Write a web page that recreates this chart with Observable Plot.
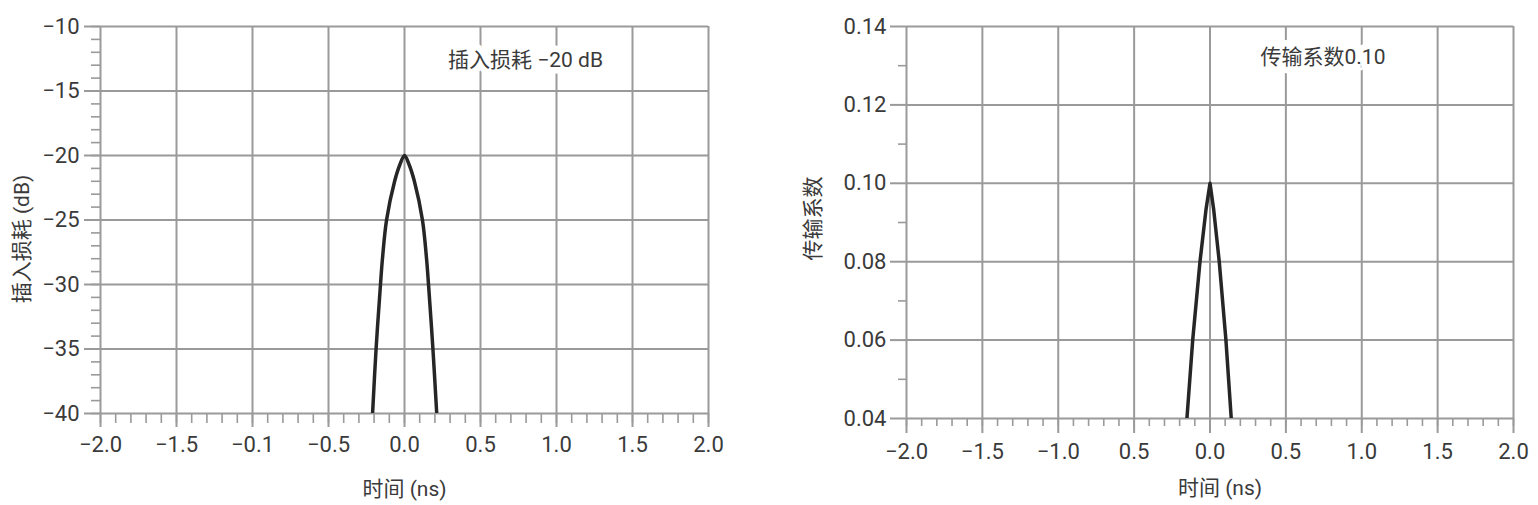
<!DOCTYPE html>
<html>
<head>
<meta charset="utf-8">
<script src="https://cdn.jsdelivr.net/npm/d3@7"></script>
<script src="https://cdn.jsdelivr.net/npm/@observablehq/plot@0.6"></script>
<style>
  html, body { margin: 0; padding: 0; background: #fff; }
  #wrap { display: flex; width: 1538px; height: 505px; }
</style>
</head>
<body>
<div id="wrap"></div>
<script>
// ---- data ----
const timeTicks = [-2, -1.5, -1, -0.5, 0, 0.5, 1, 1.5, 2];
const leftTimeLabels = ["−2.0", "−1.5", "−0.1", "−0.5", "0.0", "0.5", "1.0", "1.5", "2.0"];
const rightTimeLabels = ["−2.0", "−1.5", "−1.0", "0.5", "0.0", "0.5", "1.0", "1.5", "2.0"];

const lossTicks = [-40, -35, -30, -25, -20, -15, -10];
const lossLabels = ["−40", "−35", "−30", "−25", "−20", "−15", "−10"];
const coefTicks = [0.04, 0.06, 0.08, 0.10, 0.12, 0.14];
const coefLabels = ["0.04", "0.06", "0.08", "0.10", "0.12", "0.14"];

const lossTime  = [-0.21, -0.187, -0.158, -0.145, -0.118, -0.065, -0.03, 0, 0.03, 0.065, 0.118, 0.145, 0.158, 0.187, 0.212];
const lossValue = [-40, -35, -30, -28, -25, -22, -20.7, -20, -20.7, -22, -25, -28, -30, -35, -40];

const coefTime  = [-0.152, -0.114, -0.066, -0.026, 0, 0.024, 0.061, 0.105, 0.14];
const coefValue = [0.04, 0.06, 0.08, 0.0934, 0.1, 0.0934, 0.08, 0.06, 0.04];

const xTitle = "时间 (ns)";
const leftYTitle = "插入损耗 (dB)";
const rightYTitle = "传输系数";
const leftNote = "插入损耗 −20 dB";
const rightNote = "传输系数0.10";

// ---- style ----
const gridColor = "#9a9a9a";
const textColor = "#3a3a3a";
const lineColor = "#262626";
const font = "Roboto, 'Noto Sans CJK SC', sans-serif";

function panel(o) {
  const xLab = new Map(timeTicks.map((t, i) => [t, o.xLabels[i]]));
  const yLab = new Map(o.yTicks.map((t, i) => [t, o.yLabels[i]]));
  const data = o.times.map((t, i) => ({t, v: o.values[i]}));
  return Plot.plot({
    width: 769,
    height: 505,
    marginLeft: o.ml, marginRight: o.mr, marginTop: 26, marginBottom: o.mb,
    style: {fontFamily: font, fontSize: "21px", background: "#fff", color: textColor, overflow: "visible"},
    x: {domain: [-2, 2]},
    y: {domain: o.yDomain},
    marks: [
      Plot.gridY(o.yTicks, {stroke: gridColor, strokeOpacity: 1, strokeWidth: 2}),
      Plot.gridX(timeTicks, {stroke: gridColor, strokeOpacity: 1, strokeWidth: 2}),
      // minor ticks
      Plot.axisY(o.yMinor, {anchor: "left", tickSize: o.yMinorSize, tickFormat: () => "", stroke: gridColor, strokeWidth: 1.6, label: null}),
      Plot.axisX(d3.range(-20, 21).map(i => i / 10), {anchor: "bottom", tickSize: o.xMinorSize, tickFormat: () => "", stroke: gridColor, strokeWidth: 1.6, label: null}),
      // major ticks
      Plot.axisY(o.yTicks, {anchor: "left", tickSize: 16, tickFormat: () => "", stroke: gridColor, strokeWidth: 2, label: null}),
      Plot.axisX(timeTicks, {anchor: "bottom", tickSize: o.xMajorSize, tickFormat: () => "", stroke: gridColor, strokeWidth: 2, label: null}),
      // labels
      Plot.axisY(o.yTicks, {anchor: "left", tickSize: 0, tickPadding: o.yPad, tickFormat: d => yLab.get(d), color: textColor, fontSize: 22, label: null}),
      Plot.axisX(timeTicks, {anchor: "bottom", tickSize: 0, tickPadding: o.xPad, tickFormat: d => xLab.get(d), color: textColor, fontSize: 22, label: null}),
      // curve
      Plot.line(data, {x: "t", y: "v", stroke: lineColor, strokeWidth: 3.5, curve: o.curve, clip: true}),
      // annotation
      Plot.text([o.note], {frameAnchor: "top", textAnchor: "middle", dx: o.noteDx, dy: o.noteDy, lineAnchor: "middle", fill: textColor, stroke: "white", strokeWidth: 13, paintOrder: "stroke", fontSize: 21}),
      // axis titles
      Plot.text([xTitle], {frameAnchor: "bottom", textAnchor: "middle", dx: o.xtDx, dy: o.xtDy, lineAnchor: "middle", fill: textColor, fontSize: 21}),
      Plot.text([o.yTitle], {frameAnchor: "left", textAnchor: "middle", dx: o.ytDx, dy: o.ytDy, rotate: -90, lineAnchor: "middle", fill: textColor, fontSize: 21})
    ]
  });
}

const wrap = document.getElementById("wrap");
wrap.appendChild(panel({
  ml: 100, mr: 61, mb: 92,
  yDomain: [-40, -10], yTicks: lossTicks, yLabels: lossLabels,
  yMinor: d3.range(-40, -9), yMinorSize: 9,
  xLabels: leftTimeLabels, xMinorSize: 10, xMajorSize: 14,
  yPad: 21, xPad: 23,
  times: lossTime, values: lossValue, curve: "catmull-rom",
  note: leftNote, noteDx: 121, noteDy: 34,
  xtDx: 0, xtDy: 76,
  yTitle: leftYTitle, ytDx: -78, ytDy: 19
}));
wrap.appendChild(panel({
  ml: 137, mr: 25, mb: 87,
  yDomain: [0.04, 0.14], yTicks: coefTicks, yLabels: coefLabels,
  yMinor: [0.05, 0.07, 0.09, 0.11, 0.13], yMinorSize: 8,
  xLabels: rightTimeLabels, xMinorSize: 8, xMajorSize: 15,
  yPad: 20, xPad: 25,
  times: coefTime, values: coefValue, curve: "linear",
  note: rightNote, noteDx: 113, noteDy: 31,
  xtDx: 10, xtDy: 70,
  yTitle: rightYTitle, ytDx: -93, ytDy: -4
}));
</script>
</body>
</html>
